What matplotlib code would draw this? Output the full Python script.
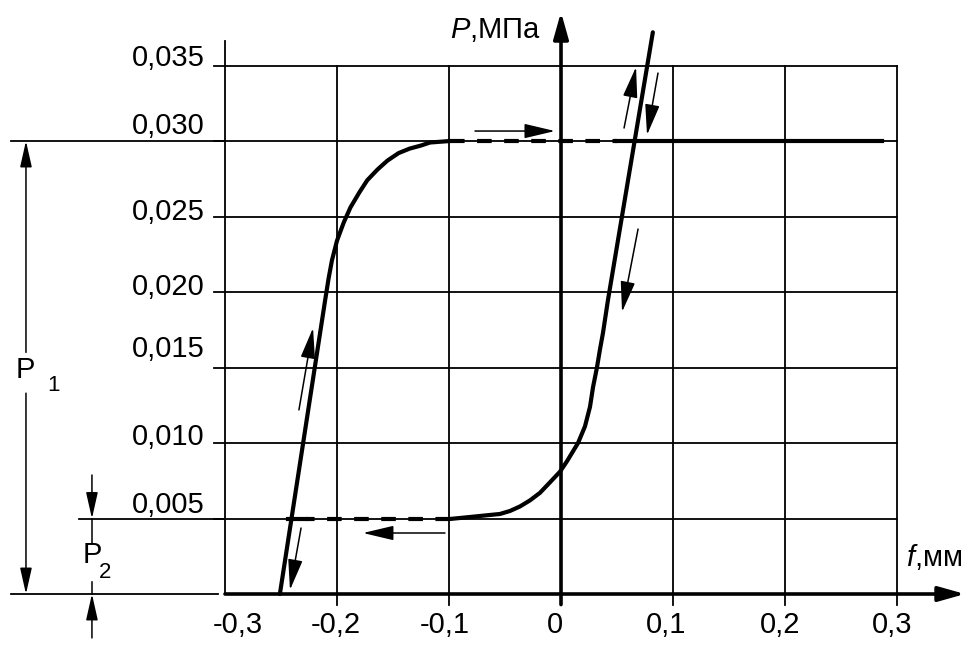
import matplotlib
matplotlib.use("Agg")
import matplotlib.pyplot as plt

plt.rcParams['font.family'] = ['Liberation Sans', 'DejaVu Sans']
plt.rcParams['mathtext.fontset'] = 'custom'
plt.rcParams['mathtext.rm'] = 'Liberation Sans'
plt.rcParams['mathtext.it'] = 'Liberation Sans:italic'

# grid values
x_ticks = [-0.3, -0.2, -0.1, 0.0, 0.1, 0.2, 0.3]
x_labels = ['-0,3', '-0,2', '-0,1', '0', '0,1', '0,2', '0,3']
x_label_pos = [-0.289, -0.201, -0.104, -0.005, 0.094, 0.196, 0.296]
y_ticks = [0.005, 0.010, 0.015, 0.020, 0.025, 0.030, 0.035]
y_labels = ['0,005', '0,010', '0,015', '0,020', '0,025', '0,030', '0,035']
y_label_pos = [0.0059, 0.0104, 0.0162, 0.0203, 0.0253, 0.0310, 0.0355]

# left branch (loading up)
left_f = [-0.251, -0.2105, -0.2075, -0.2045, -0.200, -0.194, -0.188, -0.180,
          -0.173, -0.164, -0.155, -0.145, -0.135, -0.125, -0.117, -0.108, -0.099]
left_p = [0.0, 0.0195, 0.0209, 0.0221, 0.0234, 0.0246, 0.0256, 0.0266,
          0.0274, 0.0281, 0.0287, 0.0292, 0.0295, 0.0297, 0.0299, 0.02995, 0.0300]

# right branch (unloading)
right_f = [0.082, 0.042, 0.0375, 0.0348, 0.0321, 0.0286, 0.0259, 0.0214,
           0.0152, 0.0054, -0.0009, -0.0098, -0.0188, -0.0277,
           -0.0366, -0.0455, -0.0545, -0.0680, -0.0812, -0.099]
right_p = [0.0372, 0.0195, 0.0173, 0.0162, 0.0150, 0.0137, 0.0124, 0.0111,
           0.0100, 0.0088, 0.0081, 0.0074, 0.0067, 0.0062,
           0.0058, 0.0055, 0.0053, 0.0052, 0.0051, 0.00497]

# plateaus
P1 = 0.030
P2 = 0.005
top_dash_f = [-0.099, 0.05]
top_solid_f = [0.05, 0.287]
bot_dash_f = [-0.099, -0.228]
bot_solid_f = [-0.228, -0.244]

# direction arrows: (tail_f, tail_p, tip_f, tip_p)
flow_arrows = [
    (-0.0768, 0.03066, -0.0054, 0.03066),
    (-0.1036, 0.00404, -0.1768, 0.00404),
    (-0.234, 0.01219, -0.2214, 0.01762),
    (-0.2321, 0.00437, -0.242, 0.00027),
    (0.0563, 0.03086, 0.0670, 0.0349),
    (0.0866, 0.0345, 0.0768, 0.0304),
    (0.0688, 0.02417, 0.0545, 0.01868),
]

fig = plt.figure(figsize=(9.72, 6.45), dpi=100)
ax = fig.add_axes([0, 0, 1, 1])
ax.set_xlim(-0.50089, 0.36696)
ax.set_ylim(-0.003377, 0.039338)
ax.axis('off')

k = 'black'
glw = 1.3

# grid
for y in y_ticks:
    ax.plot([-0.31, 0.3], [y, y], color=k, lw=glw)
for x in x_ticks:
    if x == -0.3:
        ax.plot([x, x], [0, 0.0366], color=k, lw=glw)
    elif x != 0:
        ax.plot([x, x], [-0.0007, 0.035], color=k, lw=glw)

# extension lines for dimensions
ax.plot([-0.491, -0.3], [P1, P1], color=k, lw=glw)
ax.plot([-0.430, -0.3], [P2, P2], color=k, lw=glw)
ax.plot([-0.491, -0.306], [0, 0], color=k, lw=glw)

# axes with arrows
axis_arrow = dict(arrowstyle='-|>,head_length=1.6,head_width=0.45', lw=2.6,
                  color=k, shrinkA=0, shrinkB=0, mutation_scale=10)
ax.annotate('', xy=(0.3607, 0), xytext=(-0.3, 0), arrowprops=axis_arrow)
ax.annotate('', xy=(0, 0.03854), xytext=(0, -0.0007), arrowprops=axis_arrow)

# curves
clw = 3.0
ax.plot(left_f, left_p, color=k, lw=clw, solid_capstyle='round', solid_joinstyle='round')
ax.plot(right_f, right_p, color=k, lw=clw, solid_capstyle='round', solid_joinstyle='round')
ax.plot(top_dash_f, [P1, P1], color=k, lw=clw, linestyle=(0, (3.5, 3)))
ax.plot(top_solid_f, [P1, P1], color=k, lw=clw)
ax.plot(bot_dash_f, [P2, P2], color=k, lw=clw, linestyle=(0, (3.5, 3)))
ax.plot(bot_solid_f, [P2, P2], color=k, lw=clw)

# flow arrows
thin_arrow = dict(arrowstyle='-|>,head_length=1.9,head_width=0.45', lw=1.1,
                  color=k, shrinkA=0, shrinkB=0, mutation_scale=10)
for tf, tp, hf, hp in flow_arrows:
    ax.annotate('', xy=(hf, hp), xytext=(tf, tp), arrowprops=thin_arrow)

# dimension P1
dim_arrow = dict(arrowstyle='-|>,head_length=1.6,head_width=0.36', lw=1.1,
                 color=k, shrinkA=0, shrinkB=0, mutation_scale=10)
xd1 = -0.4777
ax.annotate('', xy=(xd1, P1), xytext=(xd1, 0.0160), arrowprops=dim_arrow)
ax.annotate('', xy=(xd1, 0), xytext=(xd1, 0.0133), arrowprops=dim_arrow)
ax.text(-0.4866, 0.01483, 'P', fontsize=21, ha='left', va='center')
ax.text(-0.459, 0.01384, '1', fontsize=16, ha='left', va='center')

# dimension P2
xd2 = -0.4188
ax.annotate('', xy=(xd2, P2), xytext=(xd2, 0.00788), arrowprops=dim_arrow)
ax.plot([xd2, xd2], [P2, 0.00338], color=k, lw=1.1)
ax.annotate('', xy=(xd2, 0), xytext=(xd2, -0.00291), arrowprops=dim_arrow)
ax.plot([xd2, xd2], [0, 0.00079], color=k, lw=1.1)
ax.text(-0.4268, 0.00258, 'P', fontsize=21, ha='left', va='center')
ax.text(-0.4125, 0.00140, '2', fontsize=16, ha='left', va='center')

# tick labels
for xp, lab in zip(x_label_pos, x_labels):
    ax.text(xp, -0.00258, lab, fontsize=21, ha='center', va='baseline')
for yp, lab in zip(y_label_pos, y_labels):
    ax.text(-0.318, yp, lab, fontsize=21, ha='right', va='center')

# axis titles
ax.text(-0.0991, 0.03682, '$\\it{P}$,МПа', fontsize=21, ha='left', va='baseline')
ax.text(0.3080, 0.00185, '$\\it{f}$,мм', fontsize=21, ha='left', va='baseline')

fig.savefig('out.png', dpi=100, facecolor='white')
